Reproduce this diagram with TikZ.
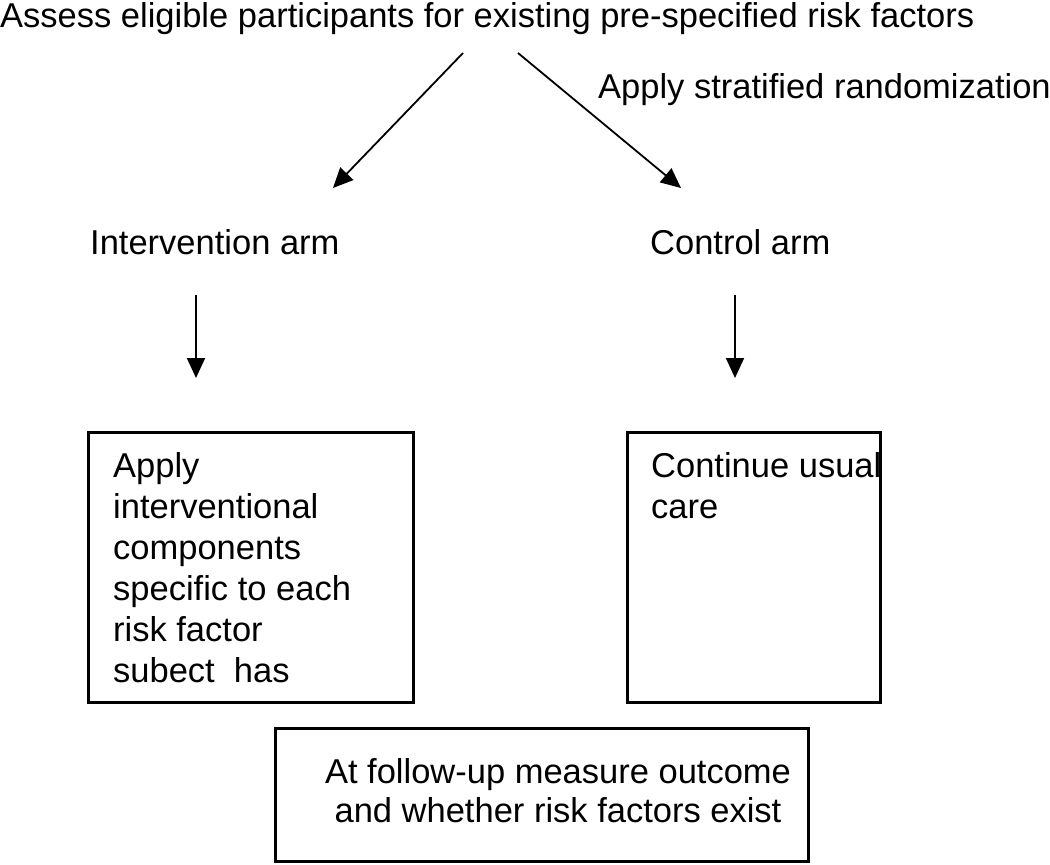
\documentclass[tikz,border=0pt]{standalone}
\usepackage{fontspec}
\setmainfont{Liberation Sans}
\usetikzlibrary{arrows.meta}
\begin{document}
\begin{tikzpicture}[x=1pt,y=-1pt,
  every node/.style={inner sep=0pt, font=\fontsize{34.5}{41}\selectfont},
  lbl/.style={anchor=base west},
  box/.style={draw, line width=3pt},
  arr/.style={line width=1.8pt, -{Triangle[length=20pt,width=18pt]}}]
\useasboundingbox (0,0) rectangle (1050,865);
\node[lbl] (top) at (0,27) {Assess eligible participants for existing pre-specified risk factors};
\node[lbl] (strat) at (598,98) {Apply stratified randomization};
\coordinate (s1) at (463,53);
\coordinate (s2) at (518,53);
\node[lbl] (int) at (90,254) {Intervention arm};
\node[lbl] (ctl) at (650,254) {Control arm};
\coordinate (e1) at (333,188);
\coordinate (e2) at (681,188);
\draw[arr] (s1) -- (e1);
\draw[arr] (s2) -- (e2);
\coordinate (d1a) at (196,295);
\coordinate (d1b) at (196,378);
\coordinate (d2a) at (735,295);
\coordinate (d2b) at (735,378);
\draw[arr] (d1a) -- (d1b);
\draw[arr] (d2a) -- (d2b);
\draw[box] (88,432) rectangle (413,702);
\draw[box] (627,432) rectangle (880,702);
\draw[box] (275,728) rectangle (808,861);
\node[anchor=north west, align=left] (ltxt) at (113,452) {Apply\\interventional\\components\\specific to each\\risk factor\\subect\ \ has};
\node[anchor=north west, align=left] (rtxt) at (651,452) {Continue usual\\care};
\node[anchor=north, align=center, font=\fontsize{34.5}{39}\selectfont] (btxt) at (558,758) {At follow-up measure outcome\\and whether risk factors exist};
\end{tikzpicture}
\end{document}
